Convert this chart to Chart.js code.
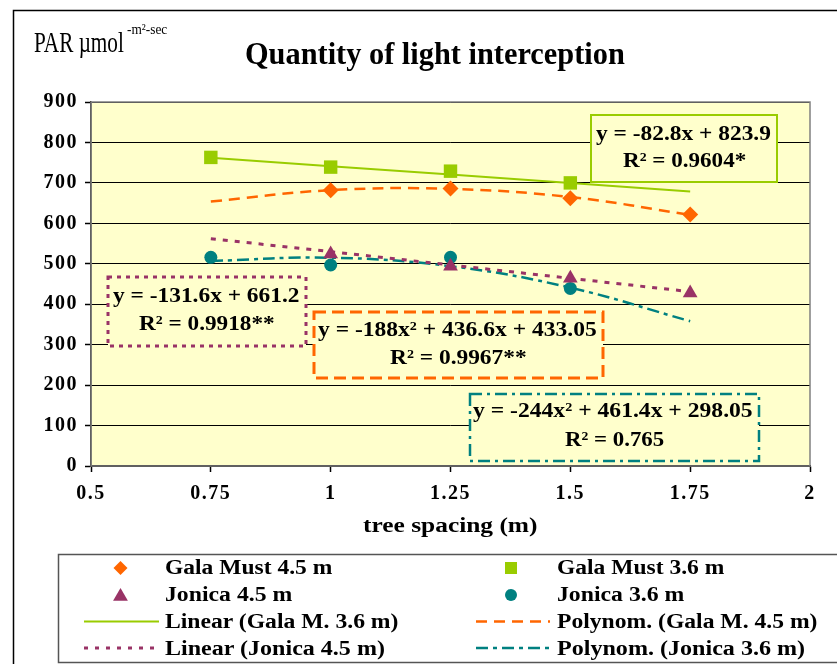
<!DOCTYPE html>
<html>
<head>
<meta charset="utf-8">
<script src="https://cdn.jsdelivr.net/npm/chart.js@4.4.1/dist/chart.umd.min.js"></script>
<style>
  body { margin: 0; background: #fff; }
  #wrap { position: relative; width: 837px; height: 664px; overflow: hidden; font-family: "Liberation Serif", "Times New Roman", serif; }
  #myChart { position: absolute; left: 0; top: 0; }
  #overlay { position: absolute; left: 0; top: 0; }
  .txt { position: absolute; white-space: nowrap; color: #000; transform-origin: left top; }
  .txt sup { font-size: 0.6em; line-height: 0; vertical-align: 0.5em; }
</style>
</head>
<body>
<div id="wrap">
  <canvas id="myChart" width="837" height="664"></canvas>
  <svg id="overlay" width="837" height="664" xmlns="http://www.w3.org/2000/svg"></svg>
</div>
<script>
// data
const spacing = [0.75, 1, 1.25, 1.5, 1.75];
const galaMust45 = [null, 682, 686, 662, 622];
const galaMust36 = [763, 739, 729, 700, null];
const jonica45 = [null, 524, 494, 464, 428];
const jonica36 = [516, 497, 516, 439, null];

// trend lines, read at each spacing
const linGala36 = [762, 741, 721, 700, 679];
const polyGala45 = [654, 682, 685, 665, 621];
const linJonica45 = [562, 530, 497, 464, 431];
const polyJonica36 = [507, 515, 494, 441, 358];

const xTickValues = [0.5, 0.75, 1, 1.25, 1.5, 1.75, 2];
const xTickLabels = ["0.5", "0.75", "1", "1.25", "1.5", "1.75", "2"];
const yTickLabels = ["0", "100", "200", "300", "400", "500", "600", "700", "800", "900"];

const ORANGE = "#FF6600", GREEN = "#99CC00", PURPLE = "#993366", TEAL = "#008080";
const FONT = '"Liberation Serif", "Times New Roman", serif';

function pts(arr) {
  return spacing.map((x, i) => ({ x: x, y: arr[i] })).filter(p => p.y !== null);
}

function markers(label, arr, color, style, radius) {
  return {
    label: label, data: pts(arr), showLine: false,
    pointStyle: style, pointRadius: radius, pointHoverRadius: radius,
    backgroundColor: color, borderColor: color, borderWidth: 0,
  };
}

function trend(label, arr, color, dash, width, tension) {
  return {
    label: label, data: pts(arr), showLine: true, pointRadius: 0,
    borderColor: color, borderWidth: width, borderDash: dash, tension: tension,
    fill: false,
  };
}

const datasets = [
  markers("Gala Must 4.5 m", galaMust45, ORANGE, "rectRot", 8),
  markers("Gala Must 3.6 m", galaMust36, GREEN, "rect", 9.5),
  markers("Jonica 4.5 m", jonica45, PURPLE, "triangle", 8.5),
  markers("Jonica 3.6 m", jonica36, TEAL, "circle", 6.5),
  trend("Linear (Gala M. 3.6 m)", linGala36, GREEN, [], 2, 0),
  trend("Polynom. (Gala M. 4.5 m)", polyGala45, ORANGE, [11, 7], 2.5, 0.4),
  trend("Linear (Jonica 4.5 m)", linJonica45, PURPLE, [5, 7], 3, 0),
  trend("Polynom. (Jonica 3.6 m)", polyJonica36, TEAL, [12, 5, 4, 5], 2.5, 0.4),
];

// yellow plot background + grey frame around it
const plotArea = {
  id: "plotArea",
  beforeDraw(chart) {
    const a = chart.chartArea, ctx = chart.ctx;
    ctx.save();
    ctx.fillStyle = "#FFFFCC";
    ctx.fillRect(a.left, a.top, a.right - a.left, a.bottom - a.top);
    ctx.restore();
    ctx.letterSpacing = "1.5px";
  },
  beforeDatasetsDraw(chart) {
    const a = chart.chartArea, ctx = chart.ctx;
    ctx.save();
    ctx.strokeStyle = "#808080";
    ctx.lineWidth = 1.5;
    ctx.strokeRect(a.left, a.top, a.right - a.left, a.bottom - a.top);
    ctx.restore();
  }
};

const tickFont = { family: FONT, size: 20, weight: "bold" };

const chart = new Chart(document.getElementById("myChart"), {
  type: "scatter",
  data: { datasets: datasets },
  options: {
    responsive: false,
    animation: false,
    events: [],
    layout: { padding: { left: 0, right: 27, top: 102, bottom: 138 } },
    plugins: { legend: { display: false }, title: { display: false }, tooltip: { enabled: false } },
    scales: {
      x: {
        type: "linear", min: 0.5, max: 2,
        afterBuildTicks(s) { s.ticks = xTickValues.map(v => ({ value: v })); },
        afterFit(s) { s.height = 60; },
        grid: { drawOnChartArea: false, color: "#000", tickLength: 6, tickWidth: 1.5 },
        border: { color: "#000", width: 1.5 },
        ticks: { font: tickFont, color: "#000", padding: 10, maxRotation: 0, autoSkip: false,
                 callback: (v, i) => xTickLabels[i] },
      },
      y: {
        min: 0, max: 900,
        afterFit(s) { s.width = 91; },
        grid: { color: "#000", lineWidth: 1, tickLength: 6, tickWidth: 1.5 },
        border: { color: "#000", width: 1.5 },
        ticks: { stepSize: 100, font: tickFont, color: "#000", padding: 7,
                 callback: (v, i) => yTickLabels[i] },
      },
    },
  },
  plugins: [plotArea],
});

// ---- overlay: frame, equation boxes, legend ----
const svg = document.getElementById("overlay");
const NS = "http://www.w3.org/2000/svg";
function el(tag, attrs) {
  const e = document.createElementNS(NS, tag);
  for (const k in attrs) e.setAttribute(k, attrs[k]);
  svg.appendChild(e);
  return e;
}

el("path", { d: "M13.5,664 V10.5 H837", fill: "none", stroke: "#000", "stroke-width": 1.5 });

// equation boxes
el("rect", { x: 591, y: 115, width: 186, height: 67, fill: "#FFFFCC", stroke: GREEN, "stroke-width": 2 });
el("rect", { x: 108, y: 277, width: 198, height: 69, fill: "#FFFFCC", stroke: PURPLE, "stroke-width": 3, "stroke-dasharray": "4 5" });
el("rect", { x: 314, y: 312, width: 289, height: 66, fill: "#FFFFCC", stroke: ORANGE, "stroke-width": 3, "stroke-dasharray": "12 6" });
el("rect", { x: 470, y: 394, width: 289, height: 67, fill: "#FFFFCC", stroke: TEAL, "stroke-width": 2.5, "stroke-dasharray": "12 5 3 5" });

// legend box and samples
el("rect", { x: 58.5, y: 554.5, width: 900, height: 108, fill: "#fff", stroke: "#555", "stroke-width": 1.5 });
function diamond(cx, cy, r, c) { el("polygon", { points: `${cx},${cy - r} ${cx + r},${cy} ${cx},${cy + r} ${cx - r},${cy}`, fill: c }); }
function tri(cx, cy, r, c) { el("polygon", { points: `${cx},${cy - r} ${cx + r * 0.87},${cy + r * 0.5} ${cx - r * 0.87},${cy + r * 0.5}`, fill: c }); }
function line(x1, x2, y, c, w, dash) { el("line", { x1: x1, x2: x2, y1: y, y2: y, stroke: c, "stroke-width": w, "stroke-dasharray": dash }); }
diamond(120.5, 568, 7, ORANGE);
tri(120.5, 596.5, 8.5, PURPLE);
line(84, 159, 621.5, GREEN, 2, "none");
line(84, 159, 648, PURPLE, 3, "4 7");
el("rect", { x: 505, y: 562, width: 12, height: 12, fill: GREEN });
el("circle", { cx: 511, cy: 595, r: 6, fill: TEAL });
line(476, 550, 621.5, ORANGE, 2.5, "11 7");
line(476, 550, 648, TEAL, 2.5, "12 5 4 5");

// ---- texts ----
const wrap = document.getElementById("wrap");
function addText(html, o) {
  const d = document.createElement("div");
  d.className = "txt";
  d.innerHTML = html;
  d.style.fontSize = o.fs + "px";
  d.style.lineHeight = o.fs + "px";
  d.style.fontWeight = o.bold ? "bold" : "normal";
  if (o.ls) d.style.letterSpacing = o.ls + "px";
  d.style.top = (o.base - 0.8375 * o.fs) + "px";
  wrap.appendChild(d);
  const nat = d.offsetWidth;
  const w = o.w || nat;
  d.style.transform = "scaleX(" + (w / nat) + ")";
  d.style.left = (o.cx !== undefined ? o.cx - w / 2 : o.left) + "px";
}

addText("Quantity of light interception", { cx: 435, base: 64, fs: 31, bold: true, w: 380 });
addText("PAR µmol", { left: 34, base: 52, fs: 29, w: 90 });
addText("-m²-sec", { left: 127, base: 35, fs: 15, w: 40 });
addText("tree spacing (m)", { cx: 450, base: 532, fs: 20, bold: true, w: 174 });

addText("y = -82.8x + 823.9", { cx: 683.5, base: 141, fs: 21, bold: true, w: 175 });
addText("R<sup>2</sup> = 0.9604*", { cx: 684.5, base: 168, fs: 21, bold: true, w: 123 });
addText("y = -131.6x + 661.2", { cx: 206, base: 303, fs: 21, bold: true, w: 186 });
addText("R<sup>2</sup> = 0.9918**", { cx: 207, base: 331, fs: 21, bold: true, w: 136 });
addText("y = -188x<sup>2</sup> + 436.6x + 433.05", { cx: 457.5, base: 337, fs: 21, bold: true, w: 279 });
addText("R<sup>2</sup> = 0.9967**", { cx: 458.5, base: 365, fs: 21, bold: true, w: 137 });
addText("y = -244x<sup>2</sup> + 461.4x + 298.05", { cx: 613, base: 418, fs: 21, bold: true, w: 280 });
addText("R<sup>2</sup> = 0.765", { cx: 614.5, base: 447, fs: 21, bold: true, w: 99 });

const legendText = [
  ["Gala Must 4.5 m", 165, 574, 167], ["Jonica 4.5 m", 165, 601, 127],
  ["Linear (Gala M. 3.6 m)", 165, 628, 233], ["Linear (Jonica 4.5 m)", 165, 655, 220],
  ["Gala Must 3.6 m", 557, 574, 167], ["Jonica 3.6 m", 557, 601, 127],
  ["Polynom. (Gala M. 4.5 m)", 557, 628, 261], ["Polynom. (Jonica 3.6 m)", 557, 655, 248],
];
legendText.forEach(t => addText(t[0], { left: t[1], base: t[2], fs: 20, bold: true, w: t[3] }));
</script>
</body>
</html>
